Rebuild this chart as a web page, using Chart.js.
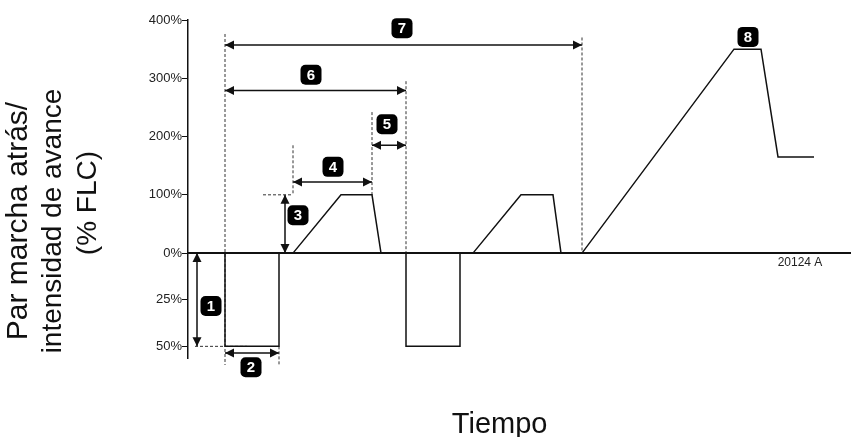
<!DOCTYPE html>
<html>
<head>
<meta charset="utf-8">
<script src="https://cdn.jsdelivr.net/npm/chart.js@4.4.1/dist/chart.umd.min.js"></script>
<style>
  body { margin: 0; background: #fff; }
  #wrap { width: 851px; height: 437px; position: relative; }
</style>
</head>
<body>
<div id="wrap"><canvas id="reverseChart"></canvas></div>
<script>
// time in arbitrary units, torque/current in % FLC (negative = reverse)
const waveTime = [0, 3.7, 3.7, 9.1, 9.1, 10.5, 15.3, 18.4, 19.3, 21.8, 21.8, 27.2, 27.2, 28.5, 33.3, 36.5, 37.3, 39.4, 54.6, 57.3, 59.0, 62.6];
const wavePct  = [0, 0, -50, -50, 0, 0, 100, 100, 0, 0, -50, -50, 0, 0, 100, 100, 0, 0, 350, 350, 165, 165];

const tickValues = [400, 300, 200, 100, 0, -25, -50];
const tickLabels = ['400%', '300%', '200%', '100%', '0%', '25%', '50%'];

const yTitle = ['Par marcha atrás/', 'intensidad de avance', '(% FLC)'];
const xTitle = 'Tiempo';

// dashed guides: [t1, p1, t2, p2]
const guides = [
    [3.7, 376, 3.7, -60],
    [9.1, -50, 9.1, -60],
    [0.7, -50, 5.9, -50],
    [10.5, 185, 10.5, 100],
    [7.5, 100, 10.5, 100],
    [18.4, 242, 18.4, 100],
    [21.8, 295, 21.8, 0],
    [39.4, 370, 39.4, 0]
];

// double arrows 1..7: [t1, p1, t2, p2]
const arrows = [
    [0.9, 0, 0.9, -50],
    [3.7, -53.6, 9.1, -53.6],
    [9.7, 100, 9.7, 0],
    [10.5, 122, 18.4, 122],
    [18.4, 185, 21.8, 185],
    [3.7, 279, 21.8, 279],
    [3.7, 357, 39.4, 357]
];

const badgeText = ['1', '2', '3', '4', '5', '6', '7', '8'];
const badgeTime = [2.3, 6.3, 11.0, 14.5, 19.9, 12.3, 21.4, 56.0];
const badgePct  = [-28.4, -61.2, 65, 148, 221, 306, 386, 371];

const NEG_SCALE = 3.2; // reverse side drawn stretched, like the original figure
const toAxis = (p) => p < 0 ? p * NEG_SCALE : p;
const pts = (ts, ps) => ts.map((t, i) => ({ x: t, y: toAxis(ps[i]) }));

const datasets = [];
datasets.push({ data: pts([0, 66.3], [0, 0]), borderColor: '#111', borderWidth: 2 });
datasets.push({ data: pts(waveTime, wavePct), borderColor: '#111', borderWidth: 1.5 });
guides.forEach(g => datasets.push({
    data: pts([g[0], g[2]], [g[1], g[3]]), borderColor: '#333', borderWidth: 1, borderDash: [3, 2]
}));
arrows.forEach(a => datasets.push({
    data: pts([a[0], a[2]], [a[1], a[3]]), borderColor: '#111', borderWidth: 1.5, arrow: true
}));

const fontFam = '"Liberation Sans", Arial, sans-serif';

const extras = {
    id: 'extras',
    afterDatasetsDraw(chart) {
        const ctx = chart.ctx;
        const xs = chart.scales.x, ys = chart.scales.y;
        const area = chart.chartArea;
        ctx.save();
        // arrow heads
        chart.data.datasets.forEach((ds, i) => {
            if (!ds.arrow) return;
            const els = chart.getDatasetMeta(i).data;
            const a = els[0], b = els[1];
            const head = (tip, from) => {
                const ang = Math.atan2(tip.y - from.y, tip.x - from.x);
                const L = 9, W = 4.5;
                ctx.beginPath();
                ctx.moveTo(tip.x, tip.y);
                ctx.lineTo(tip.x - L * Math.cos(ang) + W * Math.sin(ang), tip.y - L * Math.sin(ang) - W * Math.cos(ang));
                ctx.lineTo(tip.x - L * Math.cos(ang) - W * Math.sin(ang), tip.y - L * Math.sin(ang) + W * Math.cos(ang));
                ctx.closePath();
                ctx.fillStyle = '#111';
                ctx.fill();
            };
            head(a, b);
            head(b, a);
        });
        // numbered badges
        badgeText.forEach((txt, i) => {
            const cx = xs.getPixelForValue(badgeTime[i]);
            const cy = ys.getPixelForValue(toAxis(badgePct[i]));
            ctx.beginPath();
            ctx.roundRect(cx - 10.5, cy - 10, 21, 20, 5);
            ctx.fillStyle = '#000';
            ctx.fill();
            ctx.fillStyle = '#fff';
            ctx.font = 'bold 15px ' + fontFam;
            ctx.textAlign = 'center';
            ctx.textBaseline = 'middle';
            ctx.fillText(txt, cx, cy + 1);
        });
        // figure number
        ctx.fillStyle = '#222';
        ctx.font = '12px ' + fontFam;
        ctx.textAlign = 'center';
        ctx.textBaseline = 'middle';
        ctx.fillText('20124 A', xs.getPixelForValue(61.2), ys.getPixelForValue(0) + 10);
        // x axis title
        ctx.fillStyle = '#111';
        ctx.font = '29px ' + fontFam;
        ctx.textBaseline = 'alphabetic';
        ctx.fillText(xTitle, area.left + 0.47 * area.width, 433);
        // y axis title, rotated; the last line sits a bit higher as in the original
        ctx.textBaseline = 'middle';
        ctx.translate(0, ys.getPixelForValue(toAxis(55)));
        ctx.rotate(-Math.PI / 2);
        ctx.font = '30px ' + fontFam;
        ctx.fillText(yTitle[0], 0, 19);
        ctx.font = '28px ' + fontFam;
        ctx.fillText(yTitle[1], 0, 53);
        ctx.fillText(yTitle[2], 18, 88);
        ctx.restore();
    }
};

const ctx = document.getElementById('reverseChart');
new Chart(ctx, {
    type: 'scatter',
    data: { datasets: datasets },
    options: {
        animation: false,
        responsive: true,
        maintainAspectRatio: false,
        showLine: true,
        datasets: { scatter: { pointRadius: 0, clip: false } },
        layout: { padding: { top: 20, bottom: 79, left: 0, right: 0 } },
        plugins: { legend: { display: false }, tooltip: { enabled: false } },
        scales: {
            x: {
                type: 'linear', min: 0, max: 66.3, display: false
            },
            y: {
                min: -180, max: 400,
                afterBuildTicks: (scale) => {
                    scale.ticks = tickValues.map(v => ({ value: toAxis(v) }));
                },
                afterFit: (scale) => { scale.width = 188; },
                border: { display: true, color: '#111', width: 1.5 },
                grid: { drawOnChartArea: false, drawTicks: true, tickLength: 6, color: '#111' },
                ticks: {
                    padding: 0,
                    color: '#222',
                    font: { size: 13, family: fontFam },
                    callback: (v) => {
                        const i = tickValues.findIndex(t => toAxis(t) === v);
                        return i >= 0 ? tickLabels[i] : '';
                    }
                }
            }
        }
    },
    plugins: [extras]
});
</script>
</body>
</html>
